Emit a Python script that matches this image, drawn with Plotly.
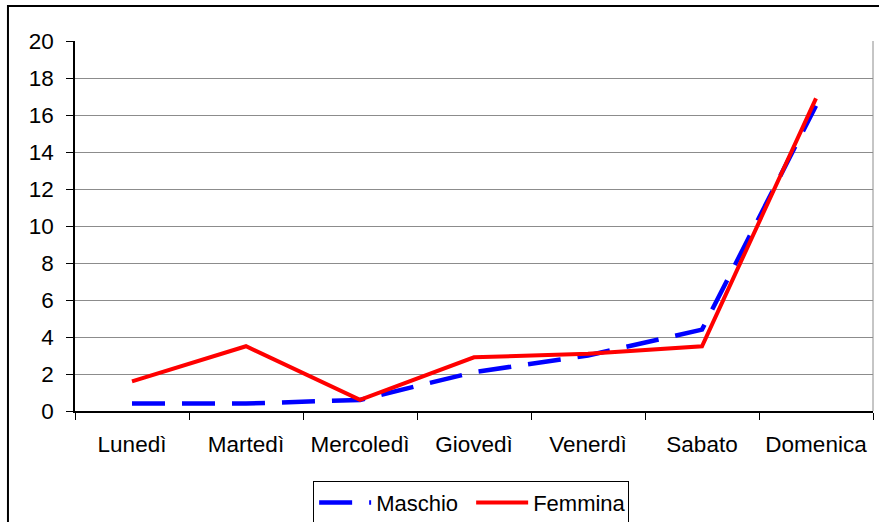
import plotly.graph_objects as go

giorni = ["Lunedì", "Martedì", "Mercoledì", "Giovedì", "Venerdì", "Sabato", "Domenica"]
maschio = [0.4, 0.4, 0.6, 2.1, 3.0, 4.4, 16.5]
femmina = [1.6, 3.5, 0.6, 2.9, 3.1, 3.5, 16.9]
y_ticks = [0, 2, 4, 6, 8, 10, 12, 14, 16, 18, 20]

FONT = "Liberation Sans, Arial, sans-serif"

fig = go.Figure()
fig.add_trace(go.Scatter(
    x=giorni, y=maschio, name="Maschio", mode="lines",
    line=dict(color="#0000FF", width=4.5, dash="33px,17px"),
))
fig.add_trace(go.Scatter(
    x=giorni, y=femmina, name="Femmina", mode="lines",
    line=dict(color="#FF0000", width=4),
))

fig.update_layout(
    width=879, height=522,
    margin=dict(l=75, r=6, t=41, b=111, autoexpand=False),
    paper_bgcolor="white", plot_bgcolor="white",
    font=dict(family=FONT, size=22.5, color="black"),
    showlegend=True,
    legend=dict(
        orientation="h", xref="container", yref="container",
        x=0.536, xanchor="center", y=0.079, yanchor="top",
        bordercolor="black", borderwidth=1, bgcolor="white",
        font=dict(size=22), itemwidth=52, entrywidth=90,
        tracegroupgap=0,
    ),
    xaxis=dict(
        type="category", range=[-0.5, 6.5], automargin=False,
        showline=True, linecolor="black", linewidth=1.5,
        ticks="outside", tickson="boundaries", ticklen=7, tickcolor="black",
        showgrid=False, zeroline=False, ticklabelstandoff=12,
    ),
    yaxis=dict(
        range=[0, 20], tickvals=y_ticks, automargin=False,
        showline=True, linecolor="black", linewidth=1.5,
        ticks="outside", ticklen=7, tickcolor="black",
        showgrid=True, gridcolor="#8c8c8c", gridwidth=1,
        zeroline=False, ticklabelstandoff=8,
    ),
    shapes=[
        # plot area right edge
        dict(type="line", xref="paper", yref="paper", x0=1, x1=1, y0=0, y1=1,
             line=dict(color="#8c8c8c", width=1)),
        # outer chart border
        dict(type="rect", xref="paper", yref="paper",
             x0=-0.084, x1=1.05, y0=-0.32, y1=1.0946,
             line=dict(color="black", width=2), layer="below"),
    ],
)

fig.write_html("out.html")
